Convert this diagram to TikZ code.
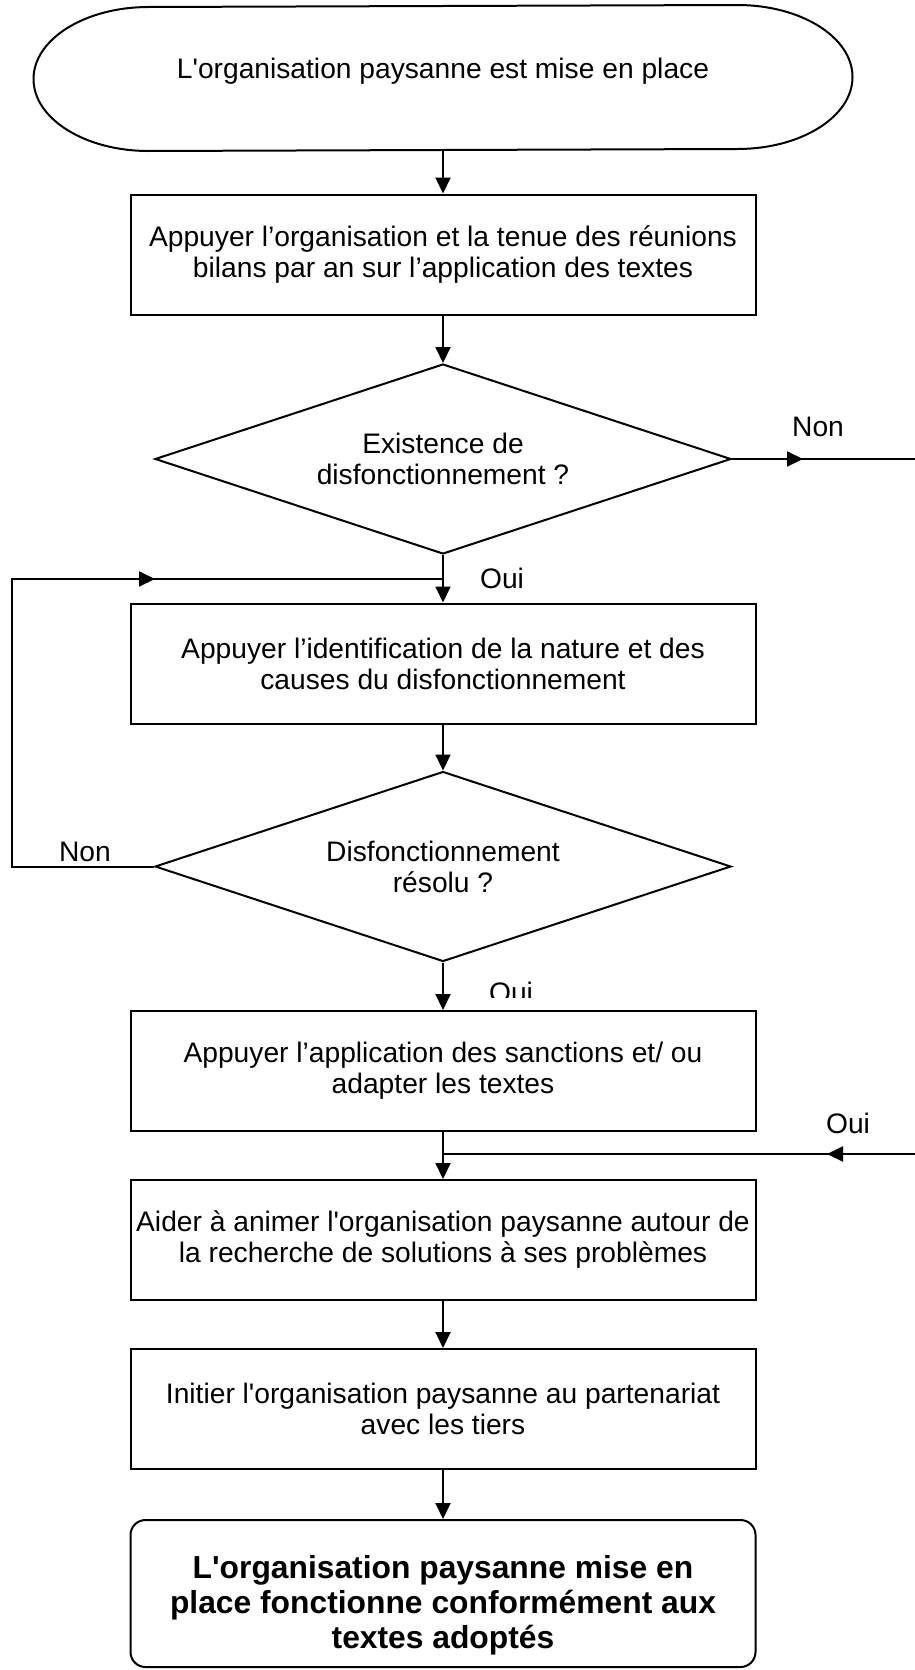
\documentclass[tikz,border=0pt]{standalone}
\usepackage{fontspec}
\setmainfont{Liberation Sans}
\usetikzlibrary{arrows.meta,shapes.geometric}
\begin{document}
\begin{tikzpicture}[x=0.5pt,y=-0.5pt,
  line width=1pt,
  font=\fontsize{14.1}{15.5}\selectfont,
  box/.style={draw, rectangle, minimum width=312.5pt, minimum height=60pt, align=center, inner sep=0pt},
  decision/.style={draw, diamond, aspect=3.03, minimum width=288pt, minimum height=95pt, align=center, inner sep=0pt},
  endbox/.style={draw, rectangle, rounded corners=7.5pt, minimum width=312.5pt, minimum height=73.5pt, inner sep=0pt},
  endtext/.style={align=center, inner sep=0pt, font=\fontsize{15.9}{17.6}\selectfont\bfseries},
  arr/.style={-{Triangle[length=8pt,width=7.5pt]}},
  lbl/.style={inner sep=0pt}]
\useasboundingbox (0,0) rectangle (915,1670);

% terminator at the top: invisible frame, outline drawn with elliptic ends
\node[minimum width=408.5pt, minimum height=72pt, inner sep=0pt] (start) at (443,78) {};
\draw[line join=round] ([xshift=-57.5pt]start.north east)
  arc[start angle=90, end angle=-90, x radius=57.5pt, y radius=36pt]
  -- ([xshift=57.5pt]start.south west)
  arc[start angle=270, end angle=90, x radius=57.5pt, y radius=36pt] -- cycle;
\node[lbl] (starttxt) at (443,71) {L\textquotesingle organisation paysanne est mise en place};

% main column
\node[box] (b1) at (443,254.5) {Appuyer l’organisation et la tenue des réunions\\bilans par an sur l’application des textes};
\node[decision] (d1) at (443,459) {Existence de\\disfonctionnement ?};
\node[box] (b2) at (443,663.5) {Appuyer l’identification de la nature et des\\causes du disfonctionnement};
\node[decision] (d2) at (443,866.5) {Disfonctionnement\\résolu ?};
\node[box] (b3) at (443,1071) {Appuyer l’application des sanctions et/ ou\\adapter les textes};
\node[box] (b4) at (443,1240) {Aider à animer l\textquotesingle organisation paysanne autour de\\la recherche de solutions à ses problèmes};
\node[box] (b5) at (443,1409) {Initier l\textquotesingle organisation paysanne au partenariat\\avec les tiers};
\node[endbox] (fin) at (443,1593.5) {};
\node[endtext] (fintxt) at (443,1605) {L\textquotesingle organisation paysanne mise en\\place fonctionne conformément aux\\textes adoptés};

% helper points for the side branches
\coordinate (nonEnd) at (915,459);
\coordinate (nonTip) at (803,459);
\coordinate (j1) at (443,579);
\coordinate (loopA) at (12,866.5);
\coordinate (loopB) at (12,579);
\coordinate (loopTip) at (155,579);
\coordinate (ouiEnd) at (915,1154);
\coordinate (ouiTip) at (827,1154);
\coordinate (j2) at (443,1154);

% connectors
\draw[arr] (start.south) -- (b1.north);
\draw[arr] (b1.south) -- (d1.north);
\draw (d1.east) -- (nonEnd);
\draw[arr] (d1.east) -- (nonTip);
\draw[arr] (d1.south) -- (b2.north);
\draw[arr] (b2.south) -- (d2.north);
\draw (d2.west) -- (loopA) -- (loopB) -- (j1);
\draw[arr] (loopB) -- (loopTip);
\draw[arr] (d2.south) -- (b3.north);
\draw[arr] (b3.south) -- (b4.north);
\draw (ouiEnd) -- (j2);
\draw[arr] (ouiEnd) -- (ouiTip);
\draw[arr] (b4.south) -- (b5.north);
\draw[arr] (b5.south) -- (fin.north);

% branch labels
\node[lbl] (lnon1) at (818,427) {Non};
\node[lbl] (loui1) at (502,578) {Oui};
\node[lbl] (lnon2) at (85,852) {Non};
\begin{scope}
  \clip (470,960) rectangle (560,997);
  \node[lbl, anchor=base] (loui2) at (511,1002) {Oui};
\end{scope}
\node[lbl] (loui3) at (848,1123) {Oui};
\end{tikzpicture}
\end{document}
